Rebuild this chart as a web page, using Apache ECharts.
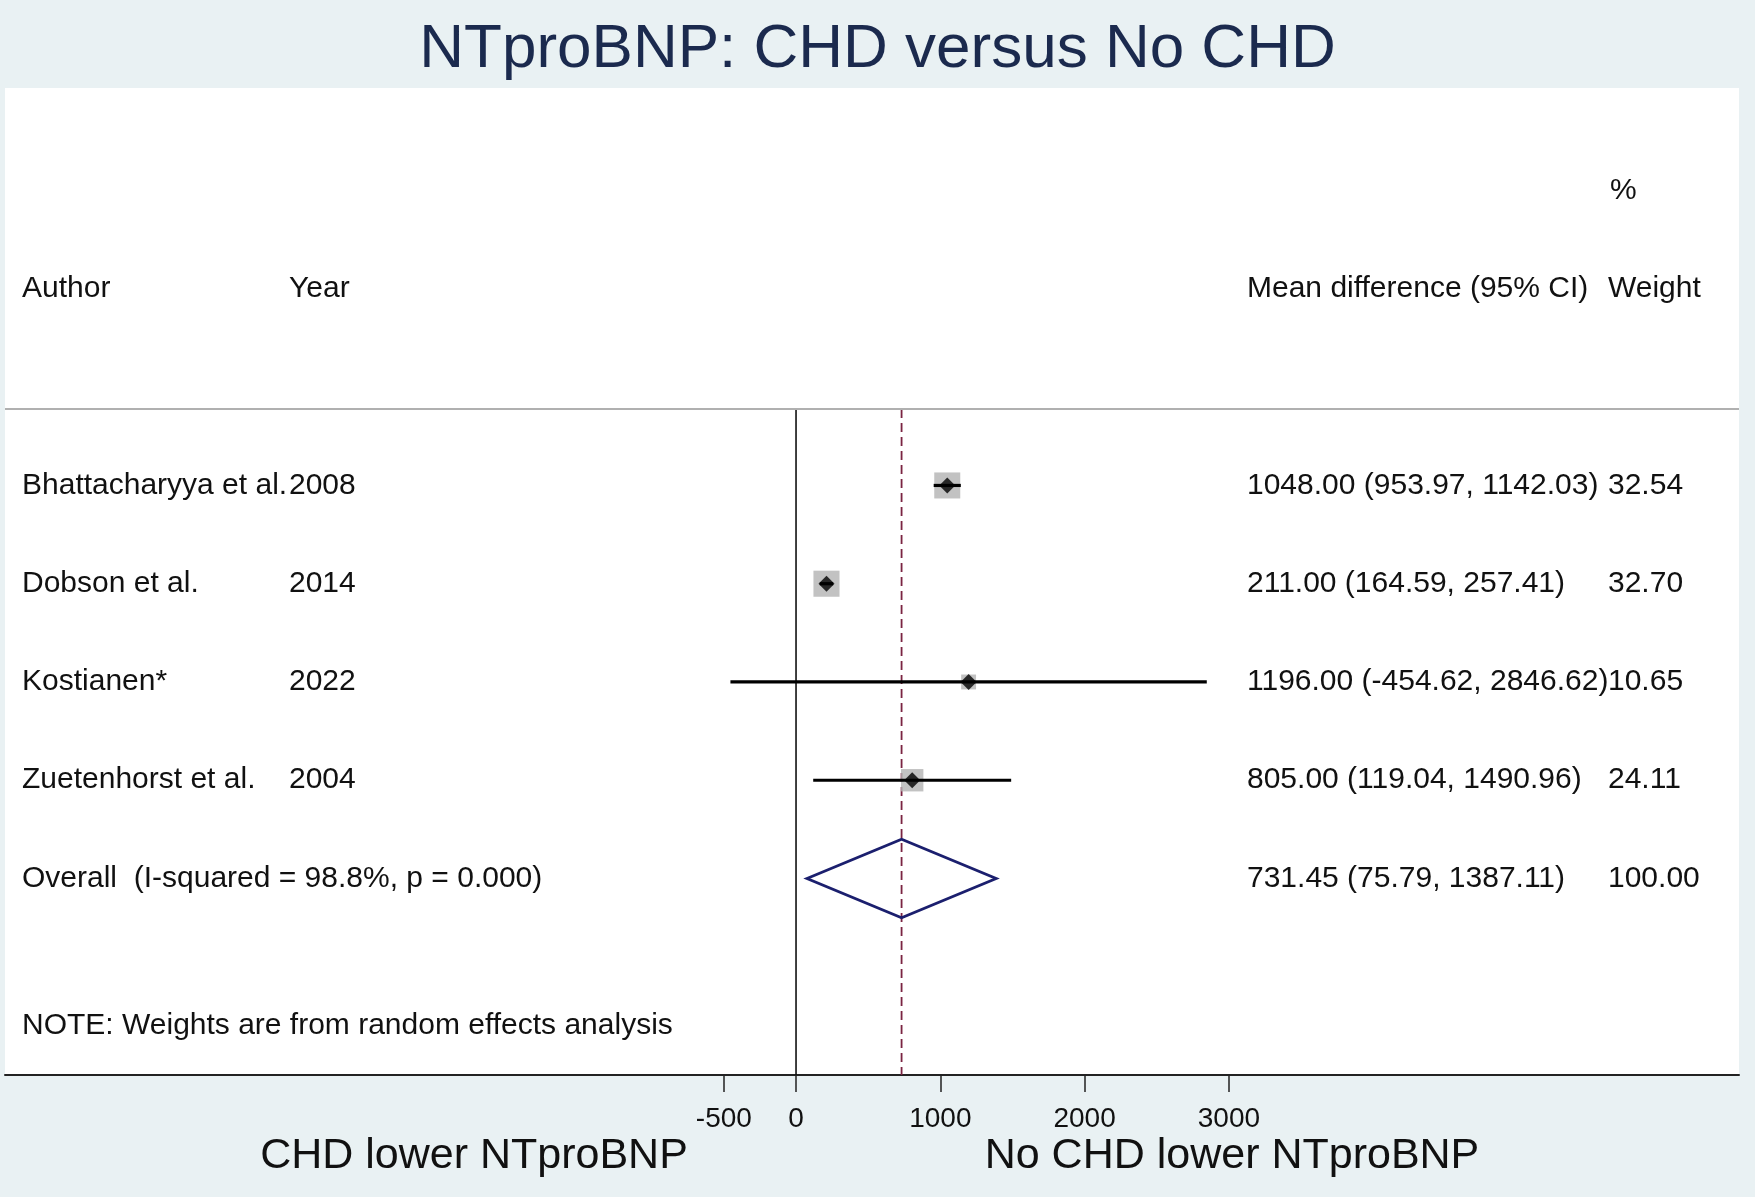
<!DOCTYPE html>
<html>
<head>
<meta charset="utf-8">
<script src="https://cdn.jsdelivr.net/npm/echarts@6/dist/echarts.min.js"></script>
<style>
  html, body { margin: 0; padding: 0; background: #e9f1f3; }
  #chart { width: 1755px; height: 1197px; }
</style>
</head>
<body>
<div id="chart"></div>
<script>
// ---------------- data ----------------
const studies = ['Bhattacharyya et al.', 'Dobson et al.', 'Kostianen*', 'Zuetenhorst et al.'];
const years = ['2008', '2014', '2022', '2004'];
const meanDiff = [1048.00, 211.00, 1196.00, 805.00];
const ciLow = [953.97, 164.59, -454.62, 119.04];
const ciHigh = [1142.03, 257.41, 2846.62, 1490.96];
const weights = [32.54, 32.70, 10.65, 24.11];
const overallLabel = 'Overall  (I-squared = 98.8%, p = 0.000)';
const overallMD = 731.45;
const overallLow = 75.79;
const overallHigh = 1387.11;
const overallWeight = 100.00;
const xTicks = [-500, 0, 1000, 2000, 3000];
const noteText = 'NOTE: Weights are from random effects analysis';
const titleText = 'NTproBNP: CHD versus No CHD';
const leftLabel = 'CHD lower NTproBNP';
const rightLabel = 'No CHD lower NTproBNP';

// ---------------- layout ----------------
const FONT = '"Liberation Sans", Arial, Helvetica, sans-serif';
const TXT = '#111111';
const yMin = -3.045, yMax = 7.0;       // row units (inverse)
const sepRow = 0.2217;                 // header separator line
const overallRow = studies.length + 1; // 5
const noteRow = 6.5;
const headerRow = -1, pctRow = -2;
const colAuthor = 22, colYear = 289, colMD = 1247, colW = 1608;

const rows = studies.map((_, i) => i + 1);
const fmt = v => v.toFixed(2);

const textRows = [];
textRows.push({ r: pctRow, items: [[colW + 2, '%']] });
textRows.push({ r: headerRow, items: [[colAuthor, 'Author'], [colYear, 'Year'], [colMD, 'Mean difference (95% CI)'], [colW, 'Weight']] });
studies.forEach((s, i) => {
  textRows.push({ r: rows[i], items: [
    [colAuthor, s], [colYear, years[i]],
    [colMD, fmt(meanDiff[i]) + ' (' + fmt(ciLow[i]) + ', ' + fmt(ciHigh[i]) + ')'],
    [colW, fmt(weights[i])]
  ]});
});
textRows.push({ r: overallRow, items: [[colAuthor, overallLabel],
  [colMD, fmt(overallMD) + ' (' + fmt(overallLow) + ', ' + fmt(overallHigh) + ')'],
  [colW, fmt(overallWeight)]] });
textRows.push({ r: noteRow, items: [[colAuthor, noteText]] });

const chart = echarts.init(document.getElementById('chart'));

const option = {
  backgroundColor: '#e9f1f3',
  animation: false,
  grid: {
    left: 5, right: 16, top: 88, bottom: 122,
    show: true, backgroundColor: '#ffffff', borderWidth: 0
  },
  xAxis: {
    type: 'value',
    min: -5482, max: 6535,
    splitLine: { show: false },
    axisLine: { show: true, onZero: false, lineStyle: { color: '#222', width: 2 } },
    axisTick: { show: true, customValues: xTicks, length: 17, lineStyle: { color: '#222', width: 1.5 } },
    axisLabel: { customValues: xTicks, fontSize: 28, color: '#111', fontFamily: FONT, margin: 30,
                 formatter: v => String(v) }
  },
  yAxis: {
    type: 'value', inverse: true, min: yMin, max: yMax, show: false,
    splitLine: { show: false }
  },
  graphic: [
    { type: 'text', left: 'center', top: 19, style: { text: titleText, fontSize: 62, fontFamily: FONT, fill: '#1b2a4e' } },
    { type: 'text', x: 474, y: 1156, style: { text: leftLabel, fontSize: 43, fontFamily: FONT, fill: TXT, align: 'center', verticalAlign: 'middle' } },
    { type: 'text', x: 1232, y: 1156, style: { text: rightLabel, fontSize: 43, fontFamily: FONT, fill: TXT, align: 'center', verticalAlign: 'middle' } }
  ],
  series: [
    {
      type: 'line', data: [], silent: true,
      markLine: {
        symbol: 'none', silent: true, label: { show: false },
        lineStyle: { color: '#b0b0b0', width: 2, type: 'solid' },
        data: [{ yAxis: sepRow }]
      }
    },
    {
      type: 'line', data: [[0, sepRow], [0, yMax]], symbol: 'none', silent: true,
      lineStyle: { color: '#111', width: 1.6 }, z: 1
    },
    {
      type: 'line', data: [[overallMD, sepRow], [overallMD, yMax]], symbol: 'none', silent: true,
      lineStyle: { color: '#7a2442', width: 1.8, type: [9, 5] }, z: 1
    },
    {
      type: 'scatter', z: 2, silent: true,
      data: meanDiff.map((m, i) => [m, rows[i], weights[i]]),
      symbol: 'rect',
      symbolSize: v => 4.56 * Math.sqrt(v[2]),
      itemStyle: { color: '#b3b3b3' }
    },
    {
      type: 'custom', z: 3, silent: true,
      data: ciLow.map((lo, i) => [lo, ciHigh[i], rows[i]]),
      renderItem: (params, api) => {
        const p1 = api.coord([api.value(0), api.value(2)]);
        const p2 = api.coord([api.value(1), api.value(2)]);
        return { type: 'line', shape: { x1: p1[0], y1: p1[1], x2: p2[0], y2: p2[1] },
                 style: { stroke: '#000', lineWidth: 3.2 } };
      }
    },
    {
      type: 'scatter', z: 4, silent: true,
      data: meanDiff.map((m, i) => [m, rows[i]]),
      symbol: 'diamond', symbolSize: 16,
      itemStyle: { color: '#000' }
    },
    {
      type: 'custom', z: 3, silent: true,
      data: [[overallLow, overallMD, overallHigh, overallRow]],
      renderItem: (params, api) => {
        const r = api.value(3), h = 0.4;
        const pts = [
          api.coord([api.value(0), r]),
          api.coord([api.value(1), r - h]),
          api.coord([api.value(2), r]),
          api.coord([api.value(1), r + h])
        ];
        return { type: 'polygon', shape: { points: pts },
                 style: { fill: 'rgba(255,255,255,0)', stroke: '#1b1f6e', lineWidth: 2.8, lineJoin: 'miter' } };
      }
    },
    {
      type: 'custom', z: 5, silent: true,
      data: textRows.map((t, i) => [0, t.r, i]),
      renderItem: (params, api) => {
        const t = textRows[api.value(2)];
        const y = api.coord([0, api.value(1)])[1];
        return {
          type: 'group',
          children: t.items.map(it => ({
            type: 'text',
            style: { text: it[1], x: it[0], y: y, fill: TXT, fontSize: 30, fontFamily: FONT,
                     align: 'left', verticalAlign: 'middle' }
          }))
        };
      }
    }
  ]
};
chart.setOption(option);
</script>
</body>
</html>
